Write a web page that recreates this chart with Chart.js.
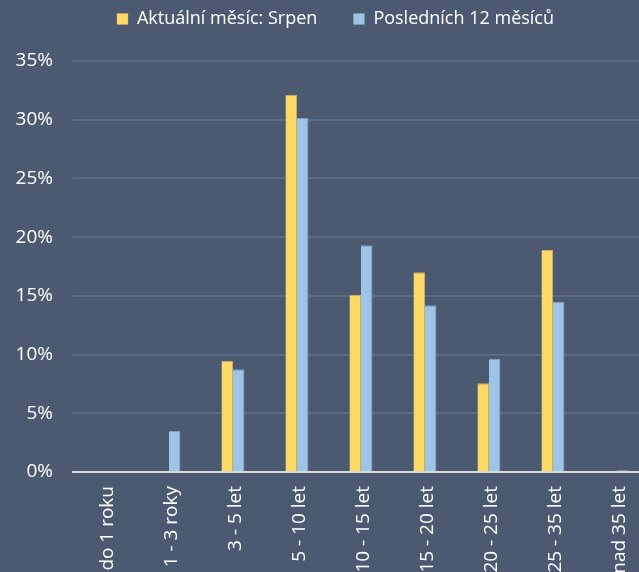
<!DOCTYPE html>
<html>
<head>
<meta charset="utf-8">
<script src="https://cdn.jsdelivr.net/npm/chart.js@4"></script>
<style>
    html, body {
        margin: 0;
        padding: 0;
        background: #4b5a71;
        overflow: hidden;
        width: 639px;
        height: 572px;
    }
    #wrap {
        position: relative;
        width: 660px;
        height: 572px;
    }
</style>
</head>
<body>
<div id="wrap"><canvas id="age-chart"></canvas></div>
<script>
const categories = ['do 1 roku', '1 - 3 roky', '3 - 5 let', '5 - 10 let', '10 - 15 let', '15 - 20 let', '20 - 25 let', '25 - 35 let', 'nad 35 let'];
const currentMonth = [0, 0, 9.45, 32.1, 15.1, 17.0, 7.55, 18.9, 0]; // Aktuální měsíc: Srpen
const last12Months = [0, 3.5, 8.75, 30.15, 19.3, 14.2, 9.65, 14.5, 0.15]; // Posledních 12 měsíců
const seriesNames = ['Aktuální měsíc: Srpen', 'Posledních 12 měsíců'];

const FONT = '"Open Sans", "Noto Sans", sans-serif';
const LEGEND_HEIGHT = 87; // legend box incl. gap above the plot
const LEGEND_SHIFT = 22;  // legend is centred a bit right of the canvas middle

// Legend sits high, plot starts lower: force the legend box height and offset
const legendBoxPlugin = {
    id: 'legendBox',
    beforeInit(chart) {
        const origFit = chart.legend.fit;
        chart.legend.fit = function () {
            origFit.call(this);
            this.height = LEGEND_HEIGHT;
        };
    },
    afterLayout(chart) {
        chart.legend.left += LEGEND_SHIFT;
    }
};

const ctx = document.getElementById('age-chart').getContext('2d');

new Chart(ctx, {
    type: 'bar',
    data: {
        labels: categories,
        datasets: [{
            label: seriesNames[0],
            data: currentMonth,
            backgroundColor: '#ffd966',
            borderColor: '#c9ad5c',
            borderWidth: { top: 1, right: 1, left: 0, bottom: 0 },
            categoryPercentage: 0.36,
            barPercentage: 1
        }, {
            label: seriesNames[1],
            data: last12Months,
            backgroundColor: '#9dc3e6',
            borderColor: '#7e9dbb',
            borderWidth: { top: 1, right: 1, left: 0, bottom: 0 },
            categoryPercentage: 0.36,
            barPercentage: 1
        }]
    },
    plugins: [legendBoxPlugin],
    options: {
        responsive: true,
        maintainAspectRatio: false,
        animation: false,
        layout: {
            padding: { top: -26, right: 11, left: 0, bottom: 0 }
        },
        scales: {
            y: {
                min: 0,
                max: 35,
                ticks: {
                    stepSize: 5,
                    padding: 20,
                    color: '#ffffff',
                    font: { family: FONT, size: 19 },
                    callback: v => v + '%'
                },
                grid: {
                    color: '#5a6b84',
                    lineWidth: 2,
                    drawTicks: false
                },
                border: { display: false },
                afterFit: scale => { scale.width = 73; }
            },
            x: {
                ticks: {
                    minRotation: 90,
                    maxRotation: 90,
                    padding: 6,
                    labelOffset: 3,
                    color: '#ffffff',
                    font: { family: FONT, size: 19 }
                },
                grid: { display: false },
                border: { color: '#d9d9d9', width: 2 },
                afterFit: scale => { scale.height = 100; }
            }
        },
        plugins: {
            legend: {
                position: 'top',
                labels: {
                    color: '#ffffff',
                    boxWidth: 11,
                    boxHeight: 11,
                    padding: 36,
                    font: { family: FONT, size: 18 }
                }
            },
            tooltip: { enabled: false }
        }
    }
});
</script>
</body>
</html>
